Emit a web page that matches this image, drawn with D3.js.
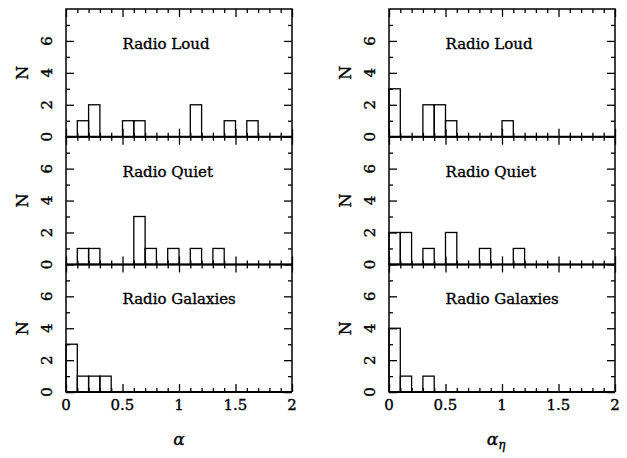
<!DOCTYPE html>
<html lang="en">
<head>
<meta charset="UTF-8">
<title>Histograms</title>
<style>
  body { margin: 0; background: #fff; }
  text { font-family: "DejaVu Serif", serif; fill: #000; stroke: #000; stroke-width: 0.35px; }
</style>
</head>
<body>
<div id="chart"></div>
<script src="https://d3js.org/d3.v7.min.js"></script>
<script>
// bin starts (width 0.1)
const binStart = [0, 0.1, 0.2, 0.3, 0.4, 0.5, 0.6, 0.7, 0.8, 0.9,
                  1.0, 1.1, 1.2, 1.3, 1.4, 1.5, 1.6, 1.7, 1.8, 1.9];
const binWidth = 0.1;

const panelNames = ["Radio Loud", "Radio Quiet", "Radio Galaxies"];

// counts per bin, alpha
const loudAlpha  = [0, 1, 2, 0, 0, 1, 1, 0, 0, 0, 0, 2, 0, 0, 1, 0, 1, 0, 0, 0];
const quietAlpha = [0, 1, 1, 0, 0, 0, 3, 1, 0, 1, 0, 1, 0, 1, 0, 0, 0, 0, 0, 0];
const galAlpha   = [3, 1, 1, 1, 0, 0, 0, 0, 0, 0, 0, 0, 0, 0, 0, 0, 0, 0, 0, 0];
// counts per bin, alpha_eta
const loudEta    = [3, 0, 0, 2, 2, 1, 0, 0, 0, 0, 1, 0, 0, 0, 0, 0, 0, 0, 0, 0];
const quietEta   = [2, 2, 0, 1, 0, 2, 0, 0, 1, 0, 0, 1, 0, 0, 0, 0, 0, 0, 0, 0];
const galEta     = [4, 1, 0, 1, 0, 0, 0, 0, 0, 0, 0, 0, 0, 0, 0, 0, 0, 0, 0, 0];

const xMajor = [0, 0.5, 1, 1.5, 2];
const xMinor = [0.1, 0.2, 0.3, 0.4, 0.6, 0.7, 0.8, 0.9, 1.1, 1.2, 1.3, 1.4,
                1.6, 1.7, 1.8, 1.9];
const yMajor = [0, 2, 4, 6];
const yMinor = [1, 3, 5, 7];

const W = 627, H = 458;
const svg = d3.select("#chart").append("svg")
    .attr("width", W)
    .attr("height", H);

const columns = [
  { x0: 66, x1: 292, series: [loudAlpha, quietAlpha, galAlpha], label: "alpha" },
  { x0: 389, x1: 615, series: [loudEta, quietEta, galEta], label: "eta" }
];
const top0 = 9, panelH = 127.7;

columns.forEach(function(col) {
  const x = d3.scaleLinear().domain([0, 2]).range([col.x0, col.x1]);

  col.series.forEach(function(counts, i) {
    const t = top0 + i * panelH, b = t + panelH;
    const y = d3.scaleLinear().domain([0, 8]).range([b, t]);
    const g = svg.append("g");

    // histogram outlines
    g.selectAll("rect")
      .data(binStart.map(function(s, k) { return { s: s, n: counts[k] }; })
                    .filter(function(d) { return d.n > 0; }))
      .enter().append("rect")
        .attr("x", function(d) { return x(d.s); })
        .attr("width", function(d) { return x(d.s + binWidth) - x(d.s); })
        .attr("y", function(d) { return y(d.n); })
        .attr("height", function(d) { return y(0) - y(d.n); })
        .attr("fill", "none")
        .attr("stroke", "#000")
        .attr("stroke-width", 1.3);

    // ticks (all inward)
    function addAxis(axis, tr) {
      const a = g.append("g").attr("transform", tr).call(axis);
      a.select(".domain").remove();
      a.selectAll("line").attr("stroke", "#000").attr("stroke-width", 1.3);
      a.selectAll("text").remove();
    }
    addAxis(d3.axisBottom(x).tickValues(xMajor).tickSize(-8), "translate(0," + b + ")");
    addAxis(d3.axisBottom(x).tickValues(xMinor).tickSize(-4), "translate(0," + b + ")");
    addAxis(d3.axisTop(x).tickValues(xMajor).tickSize(-8), "translate(0," + t + ")");
    addAxis(d3.axisTop(x).tickValues(xMinor).tickSize(-4), "translate(0," + t + ")");
    addAxis(d3.axisLeft(y).tickValues(yMajor).tickSize(-8), "translate(" + col.x0 + ",0)");
    addAxis(d3.axisLeft(y).tickValues(yMinor).tickSize(-4), "translate(" + col.x0 + ",0)");
    addAxis(d3.axisRight(y).tickValues(yMajor).tickSize(-8), "translate(" + col.x1 + ",0)");
    addAxis(d3.axisRight(y).tickValues(yMinor).tickSize(-4), "translate(" + col.x1 + ",0)");

    // frame
    g.append("path")
      .attr("d", "M" + col.x0 + "," + b + "V" + t + "H" + col.x1 + "V" + b)
      .attr("fill", "none").attr("stroke", "#000").attr("stroke-width", 1.5);
    g.append("line")
      .attr("x1", col.x0).attr("x2", col.x1)
      .attr("y1", y(0)).attr("y2", y(0))
      .attr("stroke", "#000").attr("stroke-width", 2);

    // y tick labels, rotated
    g.selectAll("text.ylab")
      .data(yMajor)
      .enter().append("text")
        .attr("class", "ylab")
        .attr("transform", function(d) {
          return "translate(" + (col.x0 - 19) + "," + y(d) + ") rotate(-90)";
        })
        .attr("text-anchor", "middle")
        .attr("dy", "0.36em")
        .style("font-size", "15px")
        .text(function(d) { return d; });

    g.append("text")
      .attr("transform", "translate(" + (col.x0 - 44) + "," + ((t + b) / 2) + ") rotate(-90)")
      .attr("text-anchor", "middle")
      .attr("dy", "0.36em")
      .style("font-size", "16px")
      .text("N");

    g.append("text")
      .attr("x", x(0.5))
      .attr("y", y(5.5))
      .style("font-size", "15px")
      .text(panelNames[i]);

    // x tick labels on bottom panel
    if (i === col.series.length - 1) {
      g.selectAll("text.xlab")
        .data(xMajor)
        .enter().append("text")
          .attr("class", "xlab")
          .attr("x", function(d) { return x(d); })
          .attr("y", b + 18)
          .attr("text-anchor", "middle")
          .style("font-size", "15px")
          .text(function(d) { return d; });

      const lab = g.append("text")
        .attr("x", x(1) - (col.label === "eta" ? 6 : 0))
        .attr("y", b + 53)
        .attr("text-anchor", "middle")
        .style("font-size", "17px")
        .style("font-style", "italic");
      lab.append("tspan").text("α");
      if (col.label === "eta") {
        lab.append("tspan").attr("dy", 4).style("font-size", "12px").text("η");
      }
    }
  });
});
</script>
</body>
</html>
